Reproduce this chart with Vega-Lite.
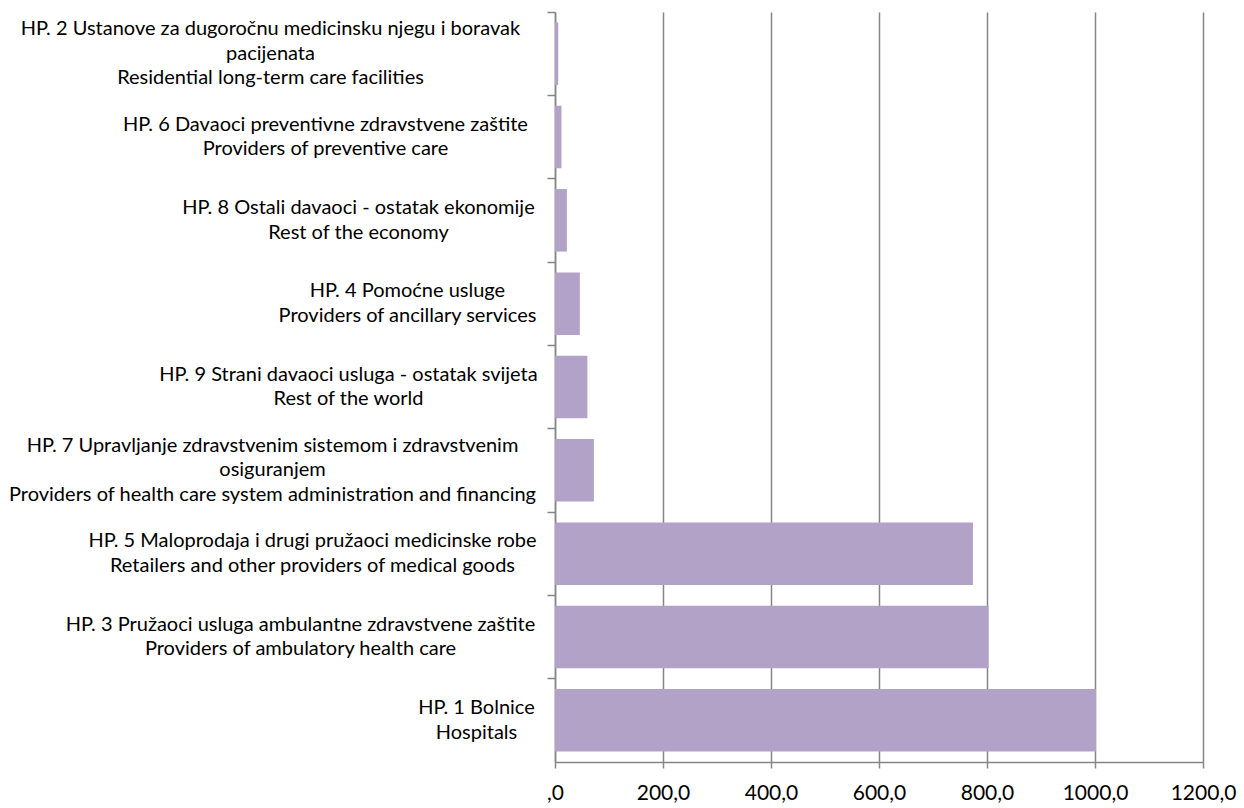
{
  "$schema": "https://vega.github.io/schema/vega-lite/v6.json",
  "autosize": {"type": "none"},
  "width": 648,
  "height": 750,
  "padding": {"left": 555, "top": 12, "right": 41, "bottom": 46},
  "background": "white",
  "data": {
    "values": [
      {"category": "HP. 2  Ustanove za dugoročnu medicinsku njegu i boravak|pacijenata|Residential long-term care facilities", "value": 6},
      {"category": "HP. 6 Davaoci preventivne zdravstvene zaštite|Providers of preventive care", "value": 12},
      {"category": "HP. 8 Ostali davaoci - ostatak ekonomije|Rest of the economy", "value": 22},
      {"category": "HP. 4  Pomoćne usluge|Providers of ancillary services", "value": 46},
      {"category": "HP. 9 Strani davaoci usluga - ostatak svijeta|Rest of the world", "value": 60},
      {"category": "HP. 7 Upravljanje zdravstvenim sistemom i zdravstvenim|osiguranjem|Providers of health care system administration and financing", "value": 72},
      {"category": "HP. 5 Maloprodaja i drugi pružaoci medicinske robe|Retailers and other providers of medical goods", "value": 774},
      {"category": "HP. 3  Pružaoci usluga ambulantne zdravstvene zaštite|Providers of ambulatory health care", "value": 803},
      {"category": "HP. 1  Bolnice|Hospitals", "value": 1002}
    ]
  },
  "mark": {"type": "bar", "color": "#B3A2C7", "height": {"band": 0.75}},
  "encoding": {
    "y": {
      "field": "category",
      "type": "nominal",
      "sort": {"field": "value", "order": "ascending"},
      "scale": {"paddingInner": 0, "paddingOuter": 0},
      "axis": {
        "title": null,
        "bandPosition": 0,
        "domainColor": "#868686",
        "domainWidth": 1.5,
        "tickColor": "#868686",
        "tickWidth": 1.5,
        "tickSize": 8,
        "labelPadding": {"expr": "indexof(datum.value, 'HP. 2') == 0 ? 277 : indexof(datum.value, 'HP. 6') == 0 ? 222 : indexof(datum.value, 'HP. 8') == 0 ? 189 : indexof(datum.value, 'HP. 4') == 0 ? 140 : indexof(datum.value, 'HP. 9') == 0 ? 199 : indexof(datum.value, 'HP. 7') == 0 ? 275 : indexof(datum.value, 'HP. 5') == 0 ? 235 : indexof(datum.value, 'HP. 3') == 0 ? 247 : 71"},
        "labelOffset": {"expr": "length(split(datum.value, '|')) == 3 ? -24.5 : -12.25"},
        "labelAlign": "center",
        "labelBaseline": "middle",
        "labelFont": "Lato",
        "labelFontSize": 20,
        "labelLineHeight": 24.5,
        "labelColor": "#000000",
        "labelLimit": 0,
        "labelExpr": "split(datum.label, '|')"
      }
    },
    "x": {
      "field": "value",
      "type": "quantitative",
      "scale": {"domain": [0, 1200], "nice": false},
      "axis": {
        "title": null,
        "values": [0, 200, 400, 600, 800, 1000, 1200],
        "labelExpr": "datum.value == 0 ? ',0' : replace(format(datum.value, '.1f'), '.', ',')",
        "grid": true,
        "gridColor": "#868686",
        "gridWidth": 1.5,
        "domainColor": "#868686",
        "domainWidth": 1.5,
        "tickColor": "#868686",
        "tickWidth": 1.5,
        "tickSize": 6,
        "labelPadding": 14,
        "labelFont": "Lato",
        "labelFontSize": 21,
        "labelColor": "#000000",
        "labelFlush": false,
        "labelOverlap": false
      }
    }
  },
  "config": {"view": {"stroke": null}}
}
